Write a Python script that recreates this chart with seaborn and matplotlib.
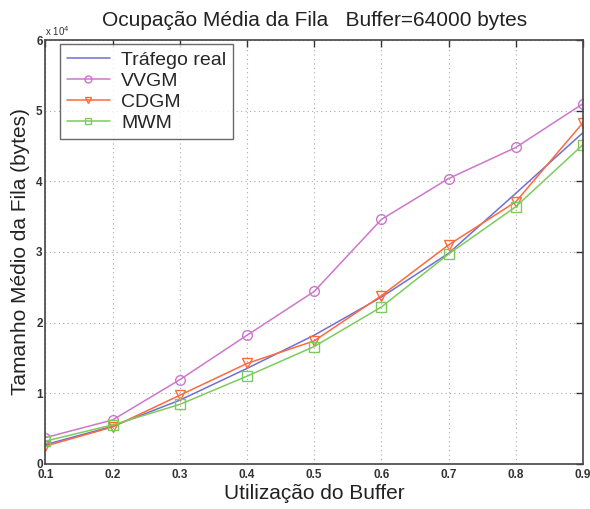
import matplotlib
matplotlib.use("Agg")
import matplotlib.pyplot as plt
import seaborn as sns
import pandas as pd
from matplotlib.ticker import ScalarFormatter, MultipleLocator

sns.set_theme(style="white")
plt.rcParams['font.family'] = ['Liberation Sans', 'DejaVu Sans']

utilizacao = [0.1, 0.2, 0.3, 0.4, 0.5, 0.6, 0.7, 0.8, 0.9]
trafego_real = [2700, 5300, 9000, 13500, 18200, 23600, 29800, 38300, 46900]
vvgm = [3700, 6200, 11900, 18200, 24400, 34600, 40400, 44800, 51000]
cdgm = [2500, 5200, 9700, 14200, 17400, 23800, 31000, 37100, 48300]
mwm = [3200, 5500, 8400, 12400, 16600, 22200, 29700, 36400, 45200]

series_names = ["Tráfego real", "VVGM", "CDGM", "MWM"]
series_vals = [trafego_real, vvgm, cdgm, mwm]
colors = ["#6f6fd6", "#cc77cc", "#ff6a3a", "#7ccc5c"]
markers = [None, "o", "v", "s"]

fig = plt.figure(figsize=(5.9, 5.09), dpi=100)
ax = fig.add_axes([0.077, 0.089, 0.911, 0.832])

for name, vals, c, m in zip(series_names, series_vals, colors, markers):
    df = pd.DataFrame({"x": utilizacao, "y": vals})
    kw = {}
    if m is not None:
        kw = dict(marker=m, markersize=7, markerfacecolor="none",
                  markeredgecolor=c, markeredgewidth=1.0)
    sns.lineplot(data=df, x="x", y="y", ax=ax, color=c, linewidth=1.1,
                 label=name, **kw)

ax.set_xlim(0.1, 0.9)
ax.set_ylim(0, 60000)
ax.yaxis.set_major_locator(MultipleLocator(10000))
fmt = ScalarFormatter(useMathText=False)
fmt.set_powerlimits((0, 0))
ax.yaxis.set_major_formatter(fmt)
ax.yaxis.get_offset_text().set_visible(False)
ax.text(0.0, 1.005, "x 10$^4$", transform=ax.transAxes, fontsize=7,
        ha="left", va="bottom", color="#333333")
ax.set_xticks(utilizacao)
ax.set_xticklabels([f"{v:.1f}" for v in utilizacao])
for lab in ax.get_xticklabels() + ax.get_yticklabels():
    lab.set_fontweight("bold")

ax.grid(True, linestyle=(0, (1, 3)), color="#aaaaaa", linewidth=0.8)
ax.tick_params(direction="in", top=True, right=True, length=5, width=1,
               color="#333333", labelsize=8.5, pad=4, labelcolor="#333333")
ax.tick_params(axis="y", pad=2)
for s in ax.spines.values():
    s.set_color("#444444")
    s.set_linewidth(1.2)

ax.set_title("Ocupação Média da Fila   Buffer=64000 bytes", fontsize=15,
             color="#222222", pad=10)
ax.set_xlabel("Utilização do Buffer", fontsize=15, color="#222222", labelpad=2)
ax.set_ylabel("Tamanho Médio da Fila (bytes)", fontsize=15, color="#222222", labelpad=4)

leg = ax.legend(loc="upper left", fontsize=14, frameon=True, fancybox=False,
                edgecolor="#444444", borderpad=0.35, labelspacing=0.18,
                handlelength=2.2, handletextpad=0.6, borderaxespad=0,
                bbox_to_anchor=(0.027, 0.99))
leg.get_frame().set_linewidth(1.0)
for h in leg.legend_handles:
    h.set_markersize(5)

fig.savefig("out.png", dpi=100, facecolor="white")
